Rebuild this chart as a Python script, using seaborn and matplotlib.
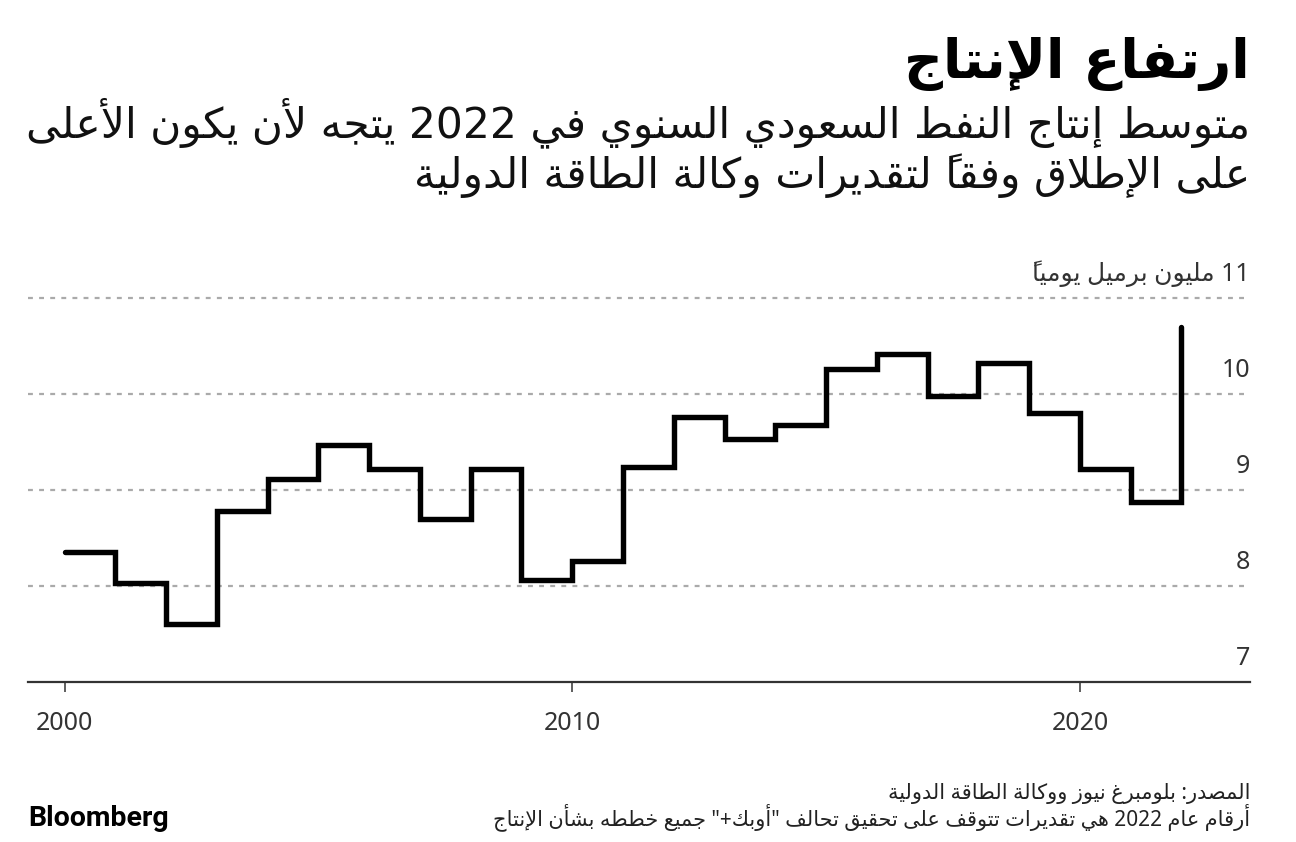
import matplotlib
matplotlib.use("Agg")
import matplotlib.pyplot as plt
import seaborn as sns
import pandas as pd

# ---------------- data ----------------
years = list(range(2000, 2023))
production = [8.35, 8.03, 7.60, 8.78, 9.11, 9.47, 9.22, 8.70, 9.22, 8.06,
              8.26, 9.24, 9.76, 9.53, 9.68, 10.26, 10.42, 9.98, 10.32, 9.80,
              9.22, 8.87, 10.70]
x_ticks = [2000, 2010, 2020]
x_tick_labels = ["2000", "2010", "2020"]
y_ticks = [7, 8, 9, 10, 11]
y_tick_labels = ["7", "8", "9", "10", "11 مليون برميل يومياً"]

title = "ارتفاع الإنتاج"
subtitle_lines = ["متوسط إنتاج النفط السعودي السنوي في 2022 يتجه لأن يكون الأعلى",
                  "على الإطلاق وفقاً لتقديرات وكالة الطاقة الدولية"]
source_lines = ["المصدر: بلومبرغ نيوز ووكالة الطاقة الدولية",
                "أرقام عام 2022 هي تقديرات تتوقف على تحقيق تحالف \"أوبك+\" جميع خططه بشأن الإنتاج"]
brand = "Bloomberg"

# ---------------- minimal Arabic shaping + visual ordering ----------------
_DUAL = {'ئ': 0xFE89, 'ب': 0xFE8F, 'ت': 0xFE95, 'ث': 0xFE99, 'ج': 0xFE9D, 'ح': 0xFEA1,
         'خ': 0xFEA5, 'س': 0xFEB1, 'ش': 0xFEB5, 'ص': 0xFEB9, 'ض': 0xFEBD, 'ط': 0xFEC1,
         'ظ': 0xFEC5, 'ع': 0xFEC9, 'غ': 0xFECD, 'ف': 0xFED1, 'ق': 0xFED5, 'ك': 0xFED9,
         'ل': 0xFEDD, 'م': 0xFEE1, 'ن': 0xFEE5, 'ه': 0xFEE9, 'ي': 0xFEF1}
_RIGHT = {'آ': 0xFE81, 'أ': 0xFE83, 'ؤ': 0xFE85, 'إ': 0xFE87, 'ا': 0xFE8D, 'ة': 0xFE93,
          'د': 0xFEA9, 'ذ': 0xFEAB, 'ر': 0xFEAD, 'ز': 0xFEAF, 'و': 0xFEED, 'ى': 0xFEEF}
_NONE = {'ء': 0xFE80}
_LAMALEF = {'آ': 0xFEF5, 'أ': 0xFEF7, 'إ': 0xFEF9, 'ا': 0xFEFB}


def _is_mark(c):
    return 0x064B <= ord(c) <= 0x065F or c == '\u0670'


def _joins(c):
    return c in _DUAL or c in _RIGHT


def _prev_letter(s, i):
    j = i - 1
    while j >= 0 and _is_mark(s[j]):
        j -= 1
    return s[j] if j >= 0 else None


def _next_index(s, i):
    j = i + 1
    while j < len(s) and _is_mark(s[j]):
        j += 1
    return j if j < len(s) else None


def shape_arabic(s):
    out = []
    i = 0
    n = len(s)
    while i < n:
        c = s[i]
        if c in _DUAL or c in _RIGHT or c in _NONE:
            p = _prev_letter(s, i)
            conn_prev = p is not None and p in _DUAL
            if c == 'ل':
                j = _next_index(s, i)
                if j is not None and s[j] in _LAMALEF and j == i + 1:
                    base = _LAMALEF[s[j]]
                    out.append(chr(base + (1 if conn_prev else 0)))
                    i = j + 1
                    continue
            j = _next_index(s, i)
            conn_next = c in _DUAL and j is not None and _joins(s[j])
            if c in _NONE:
                out.append(chr(_NONE[c]))
            elif c in _RIGHT:
                out.append(chr(_RIGHT[c] + (1 if conn_prev else 0)))
            else:
                b = _DUAL[c]
                if conn_prev and conn_next:
                    out.append(chr(b + 3))
                elif conn_prev:
                    out.append(chr(b + 1))
                elif conn_next:
                    out.append(chr(b + 2))
                else:
                    out.append(chr(b))
        else:
            out.append(c)
        i += 1
    return ''.join(out)


def visual(s):
    shaped = shape_arabic(s)
    tokens = []
    i = 0
    while i < len(shaped):
        c = shaped[i]
        if c.isascii() and c.isalnum():
            j = i
            while j < len(shaped) and shaped[j].isascii() and shaped[j].isalnum():
                j += 1
            tokens.append(shaped[i:j])
            i = j
        else:
            j = i + 1
            while j < len(shaped) and _is_mark(shaped[j]):
                j += 1
            # mark placed before its base so it is drawn over the base glyph
            tokens.append(shaped[i:j][::-1])
            i = j
    return ''.join(reversed(tokens))


# ---------------- figure ----------------
sns.set_theme(style="white")
plt.rcParams['font.family'] = ['Noto Sans', 'DejaVu Sans']
plt.rcParams['axes.unicode_minus'] = False

W, H = 1296, 842
fig = plt.figure(figsize=(W / 100, H / 100), dpi=100)
fig.patch.set_facecolor('white')

L, R = 28, 1250
TOP, BOT = 298, 682
ax = fig.add_axes([L / W, 1 - BOT / H, (R - L) / W, (BOT - TOP) / H])
ax.set_facecolor('white')

df = pd.DataFrame({"year": years, "production": production})
sns.lineplot(data=df, x="year", y="production", ax=ax, color="black",
             linewidth=3.9, drawstyle="steps-post", solid_capstyle="round",
             solid_joinstyle="miter", zorder=5)

x0, x1 = 1999.28, 2023.35
ax.set_xlim(x0, x1)
ax.set_ylim(7, 11)

for sp in ["left", "right", "top"]:
    ax.spines[sp].set_visible(False)
ax.spines["bottom"].set_color("#333333")
ax.spines["bottom"].set_linewidth(1.6)

for v in y_ticks[1:]:
    ax.axhline(v, color="#aaaaaa", linewidth=1.6, linestyle=(0, (2.2, 2.8)),
               zorder=1, clip_on=False)

ax.set_xticks(x_ticks)
ax.set_xticklabels(x_tick_labels)
ax.tick_params(axis="x", direction="out", length=7, width=1.1, color="#333333",
               pad=14, labelsize=18, labelcolor="#333333", bottom=True)
ax.set_yticks([])
ax.set_xlabel("")
ax.set_ylabel("")

for v, lab in zip(y_ticks, y_tick_labels):
    ax.annotate(visual(lab), xy=(1.0, v), xycoords=ax.get_yaxis_transform(),
                xytext=(0, 8), textcoords="offset points", ha="right", va="bottom",
                fontsize=18, color="#333333", annotation_clip=False)

# ---------------- titles ----------------
fig.text(R / W, 1 - 78 / H, visual(title), ha="right", va="baseline",
         fontsize=39, fontweight="bold", color="black",
         family=['DejaVu Sans'])
fig.text(R / W, 1 - 137 / H, visual(subtitle_lines[0]), ha="right", va="baseline",
         fontsize=30.5, color="#111111", family=['DejaVu Sans'])
fig.text(R / W, 1 - 188 / H, visual(subtitle_lines[1]), ha="right", va="baseline",
         fontsize=30.5, color="#111111", family=['DejaVu Sans'])

# ---------------- footer ----------------
fig.text(R / W, 1 - 799 / H, visual(source_lines[0]), ha="right", va="baseline",
         fontsize=15, color="#222222", family=['Noto Sans', 'DejaVu Sans'])
fig.text(R / W, 1 - 825 / H, visual(source_lines[1]), ha="right", va="baseline",
         fontsize=15, color="#222222", family=['Noto Sans', 'DejaVu Sans'])
fig.text(L / W, 1 - 826 / H, brand, ha="left", va="baseline",
         fontsize=20.5, fontweight="bold", color="black", family=['Roboto'])

fig.savefig("out.png", dpi=100, facecolor="white")
